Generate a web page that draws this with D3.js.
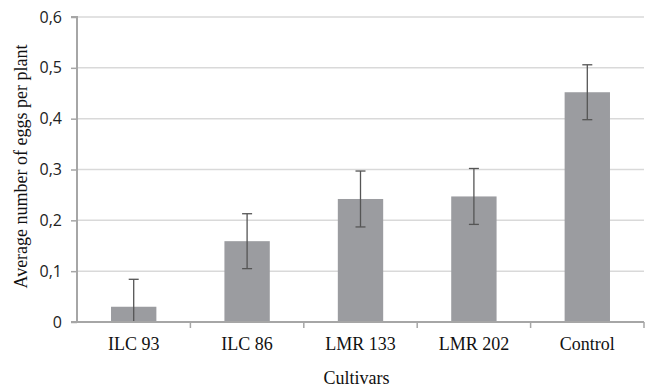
<!DOCTYPE html>
<html><head><meta charset="utf-8">
<script src="https://cdn.jsdelivr.net/npm/d3@7"></script>
<style>body{margin:0;background:#fff}</style>
</head><body>
<svg id="c" width="656" height="388"></svg>
<script>
const categories = ["ILC 93","ILC 86","LMR 133","LMR 202","Control"];
const means = [0.030, 0.159, 0.242, 0.247, 0.452];
const errors = [0.054, 0.054, 0.055, 0.055, 0.054];
const yTicks = [0,0.1,0.2,0.3,0.4,0.5,0.6];

const svg = d3.select("#c");
const m = {l:77, r:12, t:17, b:66};
const W = 656, H = 388;
const x = d3.scaleBand().domain(categories).range([m.l, W-m.r]).paddingInner(0.6).paddingOuter(0.3);
const y = d3.scaleLinear().domain([0,0.6]).range([H-m.b, m.t]);
const fmt = d => d===0 ? "0" : d3.format(".1f")(d).replace(".", ",");

// gridlines
svg.append("g").selectAll("line").data(yTicks.slice(1)).join("line")
  .attr("x1", m.l).attr("x2", W-m.r).attr("y1", d=>y(d)).attr("y2", d=>y(d))
  .attr("stroke","#d9d9d9").attr("stroke-width",1.5);

// bars
svg.append("g").selectAll("rect").data(categories).join("rect")
  .attr("x", d=>x(d)).attr("width", x.bandwidth())
  .attr("y", (d,i)=>y(means[i])).attr("height", (d,i)=>y(0)-y(means[i]))
  .attr("fill","#9b9ca0");

// error bars
const eb = svg.append("g").attr("stroke","#555").attr("stroke-width",1.3);
categories.forEach((c,i)=>{
  const cx = x(c)+x.bandwidth()/2;
  const hi = means[i]+errors[i], lo = Math.max(0, means[i]-errors[i]);
  eb.append("line").attr("x1",cx).attr("x2",cx).attr("y1",y(hi)).attr("y2",y(lo));
  eb.append("line").attr("x1",cx-5).attr("x2",cx+5).attr("y1",y(hi)).attr("y2",y(hi));
  if (means[i]-errors[i] > 0)
    eb.append("line").attr("x1",cx-5).attr("x2",cx+5).attr("y1",y(lo)).attr("y2",y(lo));
});

// y axis
const ya = svg.append("g").attr("transform",`translate(${m.l},0)`)
  .call(d3.axisLeft(y).tickValues(yTicks).tickFormat(fmt).tickSize(6).tickPadding(9));
ya.select(".domain").attr("stroke","#a6a6a6").attr("stroke-width",2).attr("d",`M-6,${y(0.6)}H0V${y(0)}`);
ya.selectAll(".tick line").attr("stroke","#a6a6a6").attr("stroke-width",1.5);
ya.selectAll(".tick text").attr("font-family","'Open Sans','DejaVu Sans',sans-serif")
  .attr("font-size",16).attr("fill","#222");

// x axis
const xa = svg.append("g").attr("transform",`translate(0,${y(0)})`)
  .call(d3.axisBottom(x).tickSize(0).tickPadding(15));
xa.select(".domain").attr("stroke","#a6a6a6").attr("stroke-width",2).attr("d",`M${m.l-6},0H${W-m.r}`);
xa.selectAll(".tick text").attr("font-family","'Liberation Serif','Times New Roman',serif")
  .attr("font-size",18).attr("fill","#111");
const bnd = d3.range(categories.length+1).map(i=>m.l + i*(W-m.r-m.l)/categories.length);
xa.selectAll(".bt").data(bnd.slice(1)).join("line").attr("class","bt")
  .attr("x1",d=>d).attr("x2",d=>d).attr("y1",0).attr("y2",6)
  .attr("stroke","#a6a6a6").attr("stroke-width",1.5);

// titles
svg.append("text").attr("x",(m.l+W-m.r)/2 - 4).attr("y",384).attr("text-anchor","middle")
  .attr("font-family","'Liberation Serif','Times New Roman',serif").attr("font-size",18).attr("fill","#111")
  .text("Cultivars");
svg.append("text").attr("transform",`translate(27,${(m.t+y(0))/2 - 3}) rotate(-90)`).attr("text-anchor","middle")
  .attr("font-family","'Liberation Serif','Times New Roman',serif").attr("font-size",18).attr("fill","#111")
  .text("Average number of eggs per plant");
</script>
</body></html>
